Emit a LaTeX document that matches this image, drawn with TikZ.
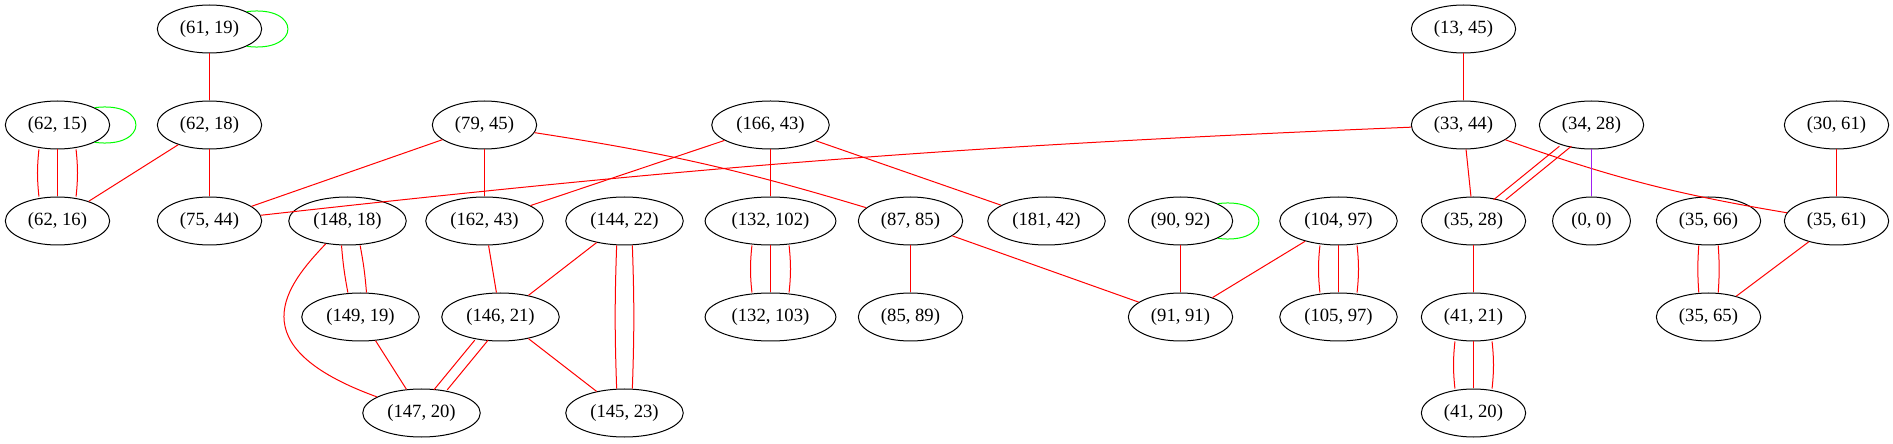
\documentclass[tikz,border=0pt]{standalone}
\usepackage{fontspec}
\setmainfont{Liberation Serif}
\usepackage{tikz}
\usetikzlibrary{shapes.geometric}
\usepackage{xcolor}
\colorlet{colE}{red}
\definecolor{colL}{RGB}{0,255,0}
\definecolor{colV}{RGB}{160,32,240}

\begin{document}
\begin{tikzpicture}[x=0.75pt,y=0.75pt,
  pair/.style={draw,ellipse,line width=0.75pt,minimum width=54pt,minimum height=36pt,
    inner xsep=5.5pt,inner ysep=2pt,font=\fontsize{14}{16}\selectfont},
  link/.style={draw=colE,line width=0.75pt},
  selfloop/.style={draw=colL,line width=0.75pt}]

 % ================================================================
 % Nodes
 % ================================================================
	\useasboundingbox (-0.5,0) rectangle (1892.5,443);

        % first row
        \node[pair] (p6119) at (209,414) {(61, 19)};
        \node[pair] (p1345) at (1463,414) {(13, 45)};
        % second row
        \node[pair] (p6215) at (57,318) {(62, 15)};
        \node[pair] (p6218) at (209,318) {(62, 18)};
        \node[pair] (p7945) at (484,318) {(79, 45)};
        \node[pair] (p16643) at (770,318) {(166, 43)};
        \node[pair] (p3344) at (1463,318) {(33, 44)};
        \node[pair] (p3428) at (1591,318) {(34, 28)};
        \node[pair] (p3061) at (1836,318) {(30, 61)};
        % third row
        \node[pair] (p6216) at (57,222) {(62, 16)};
        \node[pair] (p7544) at (209,222) {(75, 44)};
        \node[pair] (p14818) at (347,222) {(148, 18)};
        \node[pair] (p16243) at (484,222) {(162, 43)};
        \node[pair] (p14422) at (624,222) {(144, 22)};
        \node[pair] (p132102) at (770,222) {(132, 102)};
        \node[pair] (p8785) at (910,222) {(87, 85)};
        \node[pair] (p18142) at (1046,222) {(181, 42)};
        \node[pair] (p9092) at (1180,222) {(90, 92)};
        \node[pair] (p10497) at (1338,222) {(104, 97)};
        \node[pair] (p3528) at (1473,222) {(35, 28)};
        \node[pair] (p00) at (1591,222) {(0, 0)};
        \node[pair] (p3566) at (1708,222) {(35, 66)};
        \node[pair] (p3561) at (1836,222) {(35, 61)};
        % fourth row
        \node[pair] (p14919) at (360,126) {(149, 19)};
        \node[pair] (p14621) at (500,126) {(146, 21)};
        \node[pair] (p132103) at (770,126) {(132, 103)};
        \node[pair] (p8589) at (910,126) {(85, 89)};
        \node[pair] (p9191) at (1180,126) {(91, 91)};
        \node[pair] (p10597) at (1338,126) {(105, 97)};
        \node[pair] (p4121) at (1473,126) {(41, 21)};
        \node[pair] (p3565) at (1708,126) {(35, 65)};
        % fifth row
        \node[pair] (p14720) at (421,30) {(147, 20)};
        \node[pair] (p14523) at (624,30) {(145, 23)};
        \node[pair] (p4120) at (1473,30) {(41, 20)};

 % ================================================================
 % Links
 % ================================================================
        % self loops
        \draw[selfloop] (p6119.25) .. controls +(55,7) and +(55,-7) .. (p6119.-25);
        \draw[selfloop] (p6215.25) .. controls +(55,7) and +(55,-7) .. (p6215.-25);
        \draw[selfloop] (p9092.25) .. controls +(55,7) and +(55,-7) .. (p9092.-25);

        % single links
        \draw[link] (p6119) -- (p6218);
        \draw[link] (p6218) -- (p6216);
        \draw[link] (p6218) -- (p7544);
        \draw[link] (p7945) -- (p7544);
        \draw[link] (p7544) to[bend left=2] (p3344);
        \draw[link] (p7945) -- (p16243);
        \draw[link] (p7945) to[bend left=4] (p8785);
        \draw[link] (p16643) -- (p16243);
        \draw[link] (p16643) -- (p132102);
        \draw[link] (p16643) -- (p18142);
        \draw[link] (p8785) -- (p8589);
        \draw[link] (p8785) -- (p9191);
        \draw[link] (p9092) -- (p9191);
        \draw[link] (p10497) -- (p9191);
        \draw[link] (p14818) .. controls (286,158) and (236,97) .. (p14720);
        \draw[link] (p14919) -- (p14720);
        \draw[link] (p16243) -- (p14621);
        \draw[link] (p14422) -- (p14621);
        \draw[link] (p14621) -- (p14523);
        \draw[link] (p1345) -- (p3344);
        \draw[link] (p3344) -- (p3528);
        \draw[link] (p3344) to[bend right=5] (p3561);
        \draw[-,draw=colV,line width=0.75pt] (p3428) -- (p00);
        \draw[link] (p3061) -- (p3561);
        \draw[link] (p3561) -- (p3565);
        \draw[link] (p3528) -- (p4121);

        % double links
        \draw[link,transform canvas={xshift=-6pt}] (p14818) to[bend right=3] (p14919);
        \draw[link,transform canvas={xshift=6pt}] (p14818) to[bend left=3] (p14919);
        \draw[link,transform canvas={xshift=-5pt}] (p14621) -- (p14720);
        \draw[link,transform canvas={xshift=5pt}] (p14621) -- (p14720);
        \draw[link,transform canvas={xshift=-5.25pt}] (p14422) to[bend right=2] (p14523);
        \draw[link,transform canvas={xshift=5.25pt}] (p14422) to[bend left=2] (p14523);
        \draw[link,transform canvas={xshift=-4.5pt}] (p3428) -- (p3528);
        \draw[link,transform canvas={xshift=4.5pt}] (p3428) -- (p3528);
        \draw[link,transform canvas={xshift=-6pt}] (p3566) to[bend right=4] (p3565);
        \draw[link,transform canvas={xshift=6pt}] (p3566) to[bend left=4] (p3565);

        % triple links
        \foreach \top/\bot in {p6215/p6216, p132102/p132103, p10497/p10597, p4121/p4120}
        {
          \draw[link] (\top) -- (\bot);
          \draw[link,transform canvas={xshift=-12pt}] (\top) to[bend right=6] (\bot);
          \draw[link,transform canvas={xshift=12pt}] (\top) to[bend left=6] (\bot);
        }

\end{tikzpicture}
\end{document}
